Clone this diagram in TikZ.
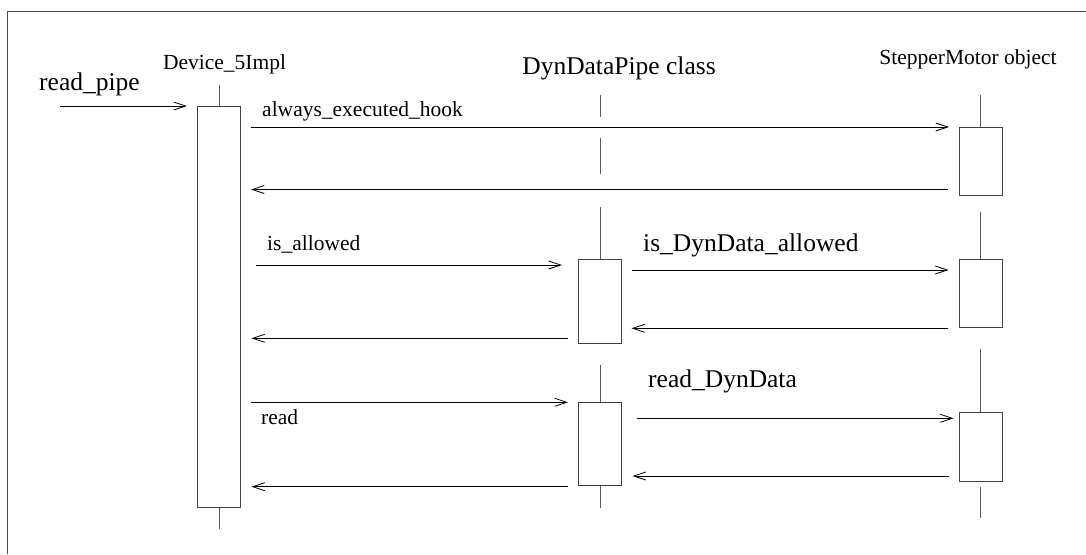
\documentclass[tikz,border=0pt]{standalone}
\usepackage{fontspec}
\setmainfont{Liberation Serif}
\usetikzlibrary{arrows.meta}
\begin{document}
\begin{tikzpicture}[x=1pt,y=-1pt,
  act/.style={draw=black!75, line width=0.9pt, rectangle, inner sep=0pt, minimum width=43pt, fill=white},
  life/.style={draw=black!65, line width=1pt},
  msg/.style={draw=black, line width=0.9pt, -{Straight Barb[length=12pt,width=8pt,line width=0.8pt]}},
  small/.style={font=\fontsize{21.5}{24}\selectfont, inner sep=0pt},
  big/.style={font=\fontsize{25.5}{28}\selectfont, inner sep=0pt}]
\useasboundingbox (0,0) rectangle (1086,554);
\draw[black!70, line width=1pt] (7,554) -- (7,11) -- (1086,11);

% headings
\node[small, anchor=base] (hdev) at (224.5,69) {Device\_5Impl};
\node[big, anchor=base] (hpipe) at (619,74) {DynDataPipe class};
\node[small, anchor=base] (hstep) at (968,64) {StepperMotor object};
\node[big, anchor=base west] (lreadpipe) at (39,90) {read\_pipe};

% activation boxes
\node[act, minimum height=401.7pt] (bdev) at (219,306.85) {};
\node[act, minimum height=84pt] (bp1) at (600,301.3) {};
\node[act, minimum height=83.4pt] (bp2) at (600,443.8) {};
\node[act, minimum height=67.7pt] (bs1) at (980.8,161.2) {};
\node[act, minimum height=68.4pt] (bs2) at (980.8,293.5) {};
\node[act, minimum height=68.3pt] (bs3) at (980.8,446.85) {};

% lifelines
\coordinate (d0) at (219,85);
\coordinate (d1) at (219,529);
\draw[life] (d0) -- (bdev.north);
\draw[life] (bdev.south) -- (d1);
\coordinate (p0) at (600,95);  \coordinate (p1) at (600,116.7);
\coordinate (p2) at (600,137.7); \coordinate (p3) at (600,174.3);
\coordinate (p4) at (600,206.7); \coordinate (p5) at (600,365);
\coordinate (p6) at (600,508.3);
\draw[life] (p0) -- (p1);
\draw[life] (p2) -- (p3);
\draw[life] (p4) -- (bp1.north);
\draw[life] (p5) -- (bp2.north);
\draw[life] (bp2.south) -- (p6);
\coordinate (s0) at (980.8,95); \coordinate (s1) at (980.8,211.7);
\coordinate (s2) at (980.8,349.3); \coordinate (s3) at (980.8,487.3);
\coordinate (s4) at (980.8,518.3);
\draw[life] (s0) -- (bs1.north);
\draw[life] (s1) -- (bs2.north);
\draw[life] (s2) -- (bs3.north);
\draw[life] (s3) -- (s4);

% messages
\coordinate (rp0) at (60,106); \coordinate (rp1) at (187,106);
\draw[msg] (rp0) -- (rp1);

\coordinate (a0) at (250.5,127); \coordinate (a1) at (949,127);
\draw[msg] (a0) -- (a1);
\node[small, anchor=base west] (laeh) at (262,116.7) {always\_executed\_hook};
\coordinate (a2) at (948,189.5); \coordinate (a3) at (251,189.5);
\draw[msg] (a2) -- (a3);

\coordinate (i0) at (256,265); \coordinate (i1) at (562,265);
\draw[msg] (i0) -- (i1);
\node[small, anchor=base west] (lisal) at (267,250) {is\_allowed};
\coordinate (i2) at (568,338.3); \coordinate (i3) at (251.5,338.3);
\draw[msg] (i2) -- (i3);

\coordinate (j0) at (631.7,270); \coordinate (j1) at (948.5,270);
\draw[msg] (j0) -- (j1);
\node[big, anchor=base west] (lisdyn) at (643,251) {is\_DynData\_allowed};
\coordinate (j2) at (948,328.3); \coordinate (j3) at (631.5,328.3);
\draw[msg] (j2) -- (j3);

\coordinate (r0) at (251,402.3); \coordinate (r1) at (568,402.3);
\draw[msg] (r0) -- (r1);
\node[small, anchor=base west] (lread) at (261,424.3) {read};
\coordinate (r2) at (568,486.7); \coordinate (r3) at (251.5,486.7);
\draw[msg] (r2) -- (r3);

\coordinate (q0) at (636.7,418.3); \coordinate (q1) at (953.5,418.3);
\draw[msg] (q0) -- (q1);
\node[big, anchor=base west] (lreaddyn) at (648,387.7) {read\_DynData};
\coordinate (q2) at (949,476); \coordinate (q3) at (632.5,476);
\draw[msg] (q2) -- (q3);
\end{tikzpicture}
\end{document}
